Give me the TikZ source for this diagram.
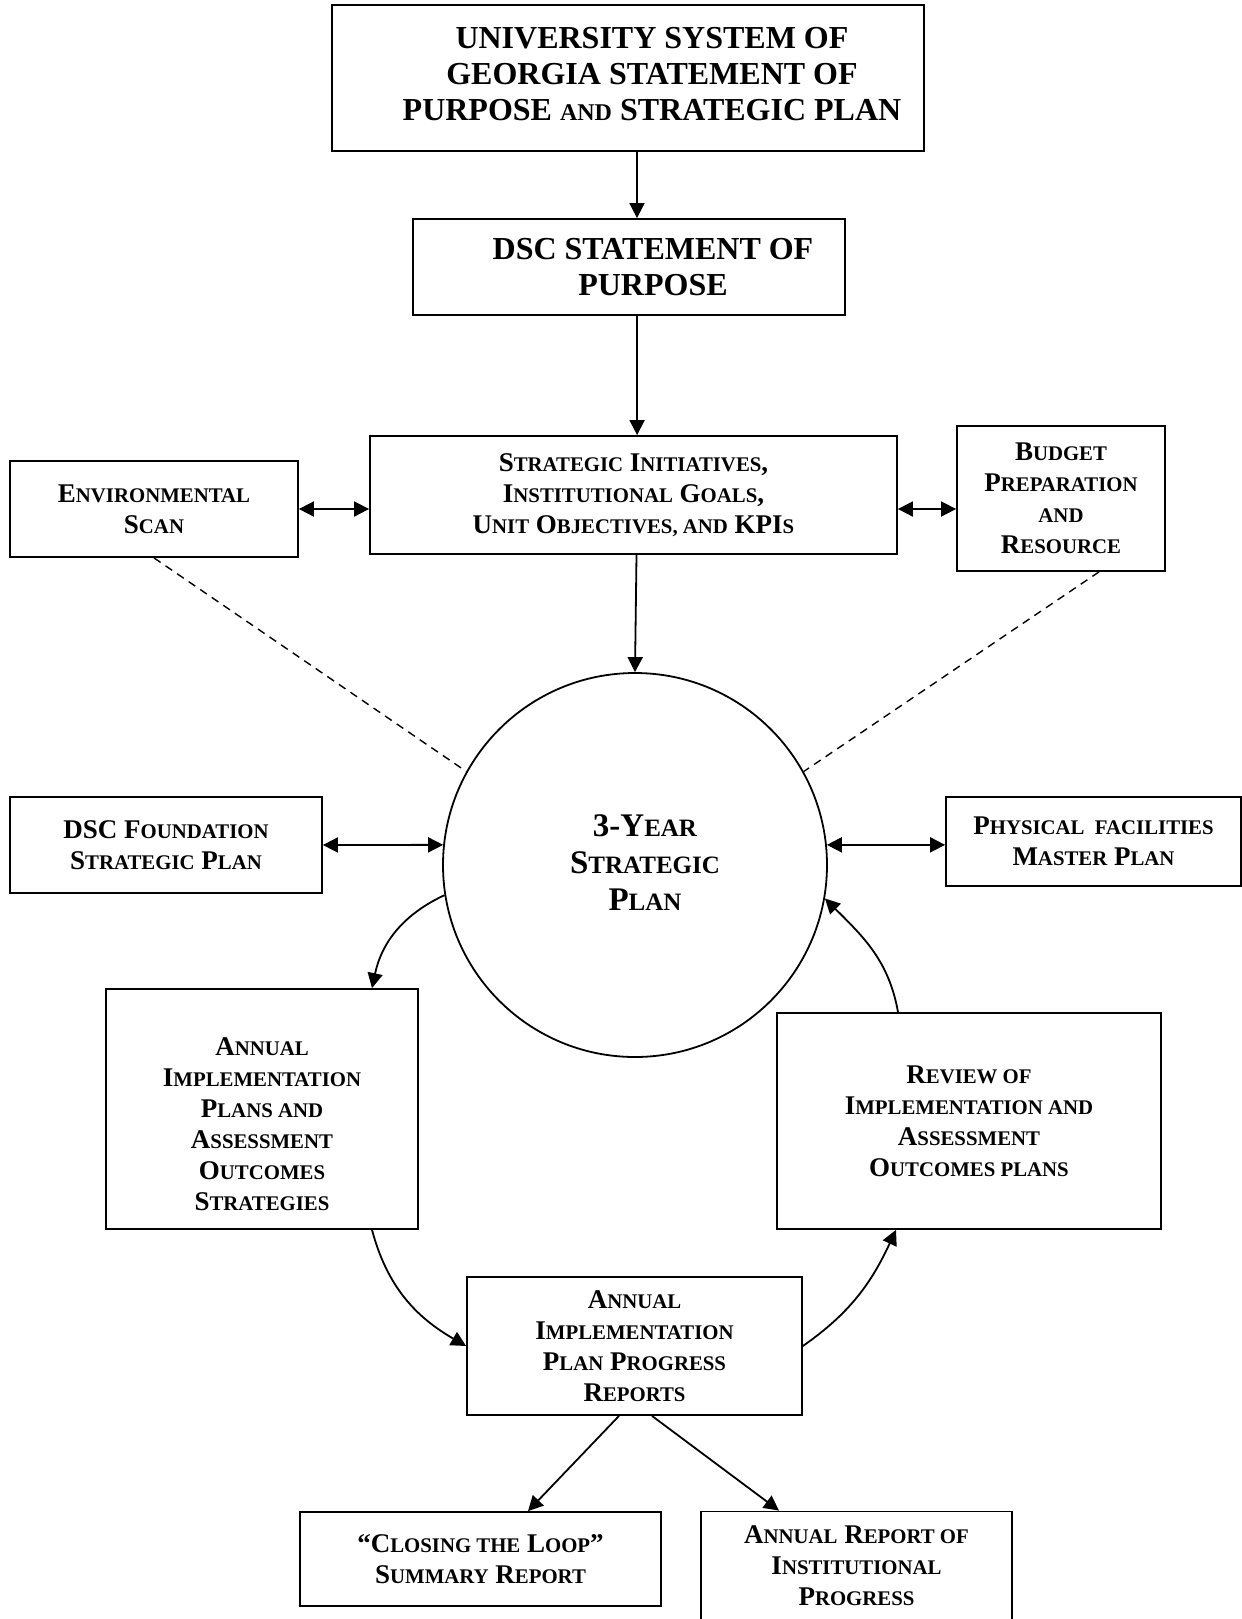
\documentclass[tikz,border=0pt]{standalone}
\usepackage{fontspec}
\setmainfont{Liberation Serif}
\usepackage{tikz}
\usetikzlibrary{arrows.meta, positioning, calc}

% small capitals by hand
\newcommand{\smc}[1]{{\fontsize{10.4pt}{15.5pt}\selectfont #1}}
\newcommand{\smcbig}[1]{{\fontsize{12.5pt}{18.5pt}\selectfont #1}}

\begin{document}
\begin{tikzpicture}[x=0.5pt, y=0.5pt,
    box/.style={draw, line width=0.9pt, align=center, inner sep=0pt,
        font=\fontsize{13.5pt}{15.5pt}\selectfont\bfseries},
    title/.style={align=center, inner sep=0pt,
        font=\fontsize{16pt}{18pt}\selectfont\bfseries},
    arr/.style={line width=0.9pt, -{Triangle[length=7.5pt,width=7.5pt]}},
    darr/.style={line width=0.9pt, {Triangle[length=7.5pt,width=7.5pt]}-{Triangle[length=7.5pt,width=7.5pt]}},
    scan/.style={line width=0.7pt, dash pattern=on 4pt off 3pt}]
    \useasboundingbox (0,0) rectangle (1242,-1619);

    % top boxes
    \node[box, minimum width=296pt, minimum height=73pt] (usg) at (628,-78) {};
    \node[title] (usgtext) at (652,-74) {UNIVERSITY SYSTEM OF\\GEORGIA STATEMENT OF\\PURPOSE {\fontsize{12pt}{18pt}\selectfont AND} STRATEGIC PLAN};
    \node[box, minimum width=216pt, minimum height=48pt] (dsc) at (629,-267) {};
    \node[title] (dsctext) at (653,-267) {DSC STATEMENT OF\\PURPOSE};
    \node[box, minimum width=263.5pt, minimum height=59pt] (sig) at (633.5,-495)
        {S\smc{TRATEGIC} I\smc{NITIATIVES},\\I\smc{NSTITUTIONAL} G\smc{OALS},\\U\smc{NIT} O\smc{BJECTIVES, AND} KPI\smc{S}};
    \node[box, minimum width=144pt, minimum height=48pt] (env) at (154,-509)
        {E\smc{NVIRONMENTAL}\\S\smc{CAN}};
    \node[box, minimum width=104pt, minimum height=72.5pt] (bud) at (1061,-498.5)
        {B\smc{UDGET}\\P\smc{REPARATION}\\\smc{AND}\\R\smc{ESOURCE}};

    % plan circle
    \node[draw, circle, line width=0.9pt, minimum size=192pt] (plan) at (635,-865) {};
    \node[title, font=\fontsize{16.5pt}{18.5pt}\selectfont\bfseries] (plantext) at (645,-863)
        {3-Y\smcbig{EAR}\\S\smcbig{TRATEGIC}\\P\smcbig{LAN}};
    \node[box, minimum width=156pt, minimum height=48pt] (fnd) at (166,-845)
        {DSC F\smc{OUNDATION}\\S\smc{TRATEGIC} P\smc{LAN}};
    \node[box, minimum width=147.5pt, minimum height=44.5pt] (phy) at (1093.5,-841.5)
        {P\smc{HYSICAL\ \ FACILITIES}\\M\smc{ASTER} P\smc{LAN}};

    % cycle boxes
    \node[box, minimum width=156pt, minimum height=120pt] (aip) at (262,-1109) {};
    \node[box, draw=none] (aiptext) at (262,-1124)
        {A\smc{NNUAL}\\I\smc{MPLEMENTATION}\\P\smc{LANS AND}\\A\smc{SSESSMENT}\\O\smc{UTCOMES}\\S\smc{TRATEGIES}};
    \node[box, minimum width=192pt, minimum height=108pt] (rev) at (969,-1121)
        {R\smc{EVIEW OF}\\I\smc{MPLEMENTATION AND}\\A\smc{SSESSMENT}\\O\smc{UTCOMES PLANS}};
    \node[box, minimum width=167.5pt, minimum height=69pt] (prg) at (634.5,-1346)
        {A\smc{NNUAL}\\I\smc{MPLEMENTATION}\\P\smc{LAN} P\smc{ROGRESS}\\R\smc{EPORTS}};
    \node[box, minimum width=180.5pt, minimum height=47pt] (clo) at (480.5,-1559)
        {“C\smc{LOSING THE} L\smc{OOP}”\\S\smc{UMMARY} R\smc{EPORT}};
    \node[box, minimum width=155.5pt, minimum height=54pt] (arp) at (856.5,-1565.5)
        {A\smc{NNUAL} R\smc{EPORT OF}\\I\smc{NSTITUTIONAL}\\P\smc{ROGRESS}};

    % straight connectors
    \draw[arr] ([xshift=4.5pt]usg.south) -- ([xshift=4pt]dsc.north);
    \draw[arr] ([xshift=4pt]dsc.south) -- ([xshift=1.8pt]sig.north);
    \draw[arr] ([xshift=1.5pt]sig.south) -- (plan.north);
    \draw[darr] (env.east) -- (env.east -| sig.west);
    \draw[darr] ([yshift=-7pt]sig.east) -- ([yshift=-7pt]sig.east -| bud.west);
    \draw[darr] (fnd.east) -- (plan.174);
    \draw[darr] (plan.6) -- (plan.6 -| phy.west);
    \draw[scan] (env.south) -- (plan.151);
    \draw[scan] ([xshift=19pt]bud.south) -- (plan.29);

    % curved connectors
    \draw[arr] (plan.189) to[out=205, in=78] ([xshift=55pt]aip.north);
    \draw[arr] ([xshift=-35.5pt]rev.north) to[out=100, in=-45] (plan.-10);
    \draw[arr] ([xshift=55pt]aip.south) to[out=-75, in=150] (prg.west);
    \draw[arr] (prg.east) to[out=35, in=-115] ([xshift=-36.5pt]rev.south);
    \draw[arr] ([xshift=-7.75pt]prg.south) -- ([xshift=23.75pt]clo.north);
    \draw[arr] ([xshift=8.75pt]prg.south) -- ([xshift=-38.75pt]arp.north);
\end{tikzpicture}
\end{document}
